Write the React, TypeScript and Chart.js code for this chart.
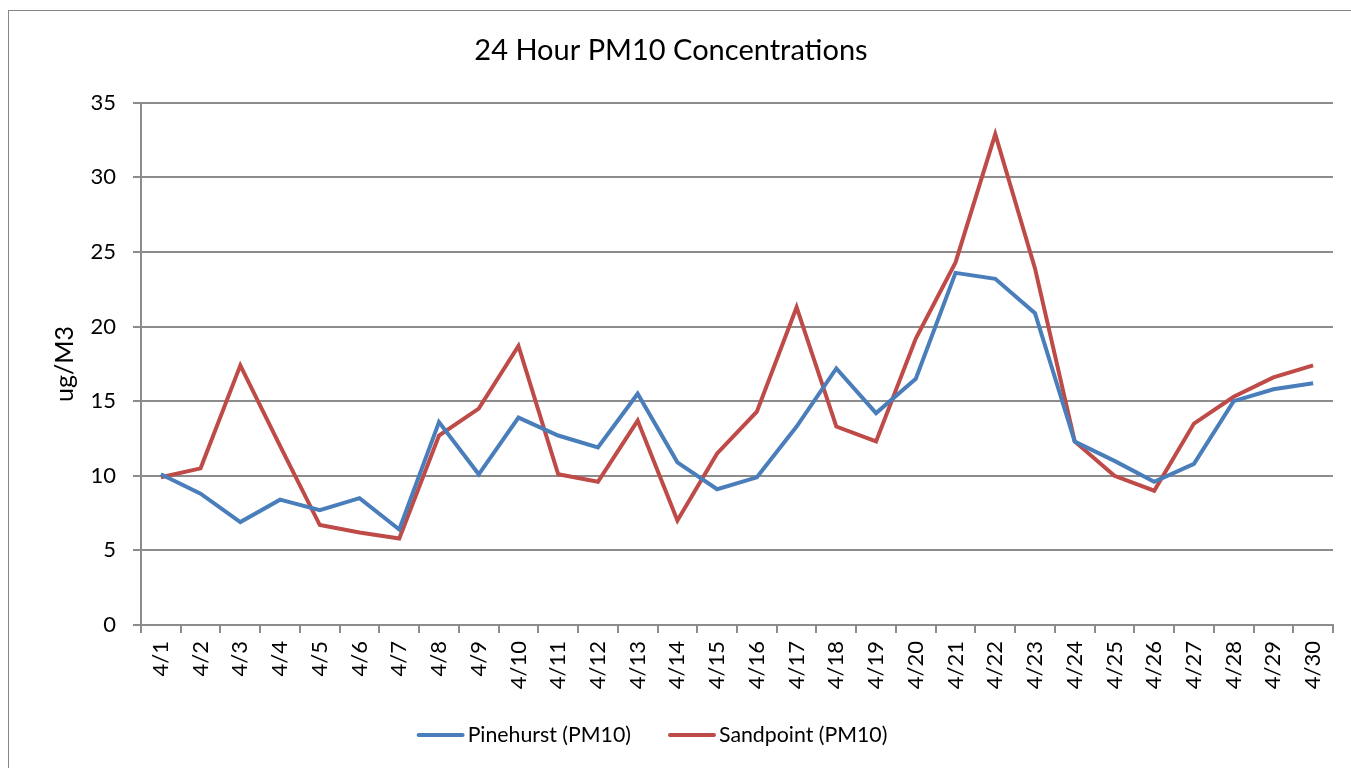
import React, { useEffect, useRef } from "react";
import { Chart, registerables } from "chart.js";

Chart.register(...registerables);

const categories = [
  "4/1", "4/2", "4/3", "4/4", "4/5", "4/6", "4/7", "4/8", "4/9", "4/10",
  "4/11", "4/12", "4/13", "4/14", "4/15", "4/16", "4/17", "4/18", "4/19", "4/20",
  "4/21", "4/22", "4/23", "4/24", "4/25", "4/26", "4/27", "4/28", "4/29", "4/30",
];

const pinehurst = [
  10.1, 8.8, 6.9, 8.4, 7.7, 8.5, 6.4, 13.6, 10.1, 13.9,
  12.7, 11.9, 15.5, 10.9, 9.1, 9.9, 13.3, 17.2, 14.2, 16.5,
  23.6, 23.2, 20.9, 12.3, 11.0, 9.6, 10.8, 15.0, 15.8, 16.2,
];

const sandpoint = [
  9.9, 10.5, 17.4, 12.0, 6.7, 6.2, 5.8, 12.7, 14.5, 18.7,
  10.1, 9.6, 13.7, 7.0, 11.5, 14.3, 21.3, 13.3, 12.3, 19.2,
  24.3, 32.9, 23.9, 12.3, 10.0, 9.0, 13.5, 15.3, 16.6, 17.4,
];

const seriesNames = ["Pinehurst (PM10)", "Sandpoint (PM10)"];
const seriesColors = ["#4a7ebb", "#be4b48"];

const FONT = "Lato, 'Open Sans', sans-serif";
const GRID = "#8c8c8c";

const customLegend = {
  id: "customLegend",
  afterDraw(chart: any) {
    const ctx = chart.ctx;
    ctx.save();
    ctx.font = `21.3px ${FONT}`;
    ctx.textBaseline = "middle";
    ctx.textAlign = "left";
    const lineW = 48;
    const gapText = 3;
    const gapItem = 37;
    const items = chart.data.datasets.map((d: any) => ({
      text: d.label,
      color: d.borderColor,
      w: ctx.measureText(d.label).width,
    }));
    let total = 0;
    items.forEach((it: any, i: number) => {
      total += lineW + gapText + it.w + (i < items.length - 1 ? gapItem : 0);
    });
    let x = 643 - total / 2;
    const y = 724;
    items.forEach((it: any) => {
      ctx.strokeStyle = it.color;
      ctx.lineWidth = 4;
      ctx.lineCap = "round";
      ctx.beginPath();
      ctx.moveTo(x + 2, y);
      ctx.lineTo(x + lineW - 2, y);
      ctx.stroke();
      ctx.fillStyle = "#000";
      ctx.fillText(it.text, x + lineW + gapText, y);
      x += lineW + gapText + it.w + gapItem;
    });
    ctx.restore();
  },
};

export default function App() {
  const ref = useRef<HTMLCanvasElement | null>(null);

  useEffect(() => {
    if (!ref.current) return;
    const chart = new Chart(ref.current, {
      type: "line",
      data: {
        labels: categories,
        datasets: [
          {
            label: seriesNames[0],
            data: pinehurst,
            borderColor: seriesColors[0],
            backgroundColor: seriesColors[0],
            borderWidth: 4,
            pointRadius: 0,
            tension: 0,
          },
          {
            label: seriesNames[1],
            data: sandpoint,
            borderColor: seriesColors[1],
            backgroundColor: seriesColors[1],
            borderWidth: 4,
            pointRadius: 0,
            tension: 0,
          },
        ],
      },
      plugins: [customLegend],
      options: {
        animation: false,
        responsive: false,
        maintainAspectRatio: false,
        layout: { padding: { top: 0, left: 0, right: 18, bottom: 55 } },
        plugins: {
          tooltip: { enabled: false },
          title: {
            display: true,
            text: "24 Hour PM10 Concentrations",
            color: "#000",
            font: { family: FONT, size: 29, weight: "normal" },
            padding: { top: 22, bottom: 35 },
          },
          legend: { display: false },
        },
        scales: {
          x: {
            offset: true,
            grid: {
              offset: true,
              drawOnChartArea: false,
              drawTicks: true,
              tickLength: 8,
              color: GRID,
              lineWidth: 2,
            },
            border: { display: true, color: GRID, width: 2 },
            ticks: {
              minRotation: 90,
              maxRotation: 90,
              autoSkip: false,
              color: "#000",
              padding: 8,
              font: { family: FONT, size: 22 },
            },
            afterFit: (s: any) => {
              s.height = 88;
            },
          },
          y: {
            min: 0,
            max: 35,
            grid: {
              color: GRID,
              lineWidth: 2,
              tickLength: 8,
            },
            border: { display: true, color: GRID, width: 2 },
            ticks: {
              stepSize: 5,
              color: "#000",
              padding: 17,
              font: { family: FONT, size: 22 },
            },
            title: {
              display: true,
              text: "ug/M3",
              color: "#000",
              font: { family: FONT, size: 25 },
              padding: { top: 41, bottom: 0 },
            },
            afterFit: (s: any) => {
              s.width = 132;
            },
          },
        },
      },
    });
    return () => chart.destroy();
  }, []);

  return (
    <div
      style={{
        position: "fixed",
        left: 8,
        top: 10,
        width: 1400,
        height: 800,
        borderLeft: "1px solid #868686",
        borderTop: "1px solid #868686",
        background: "#fff",
      }}
    >
      <canvas ref={ref} width={1342} height={757} style={{ display: "block" }} />
    </div>
  );
}
